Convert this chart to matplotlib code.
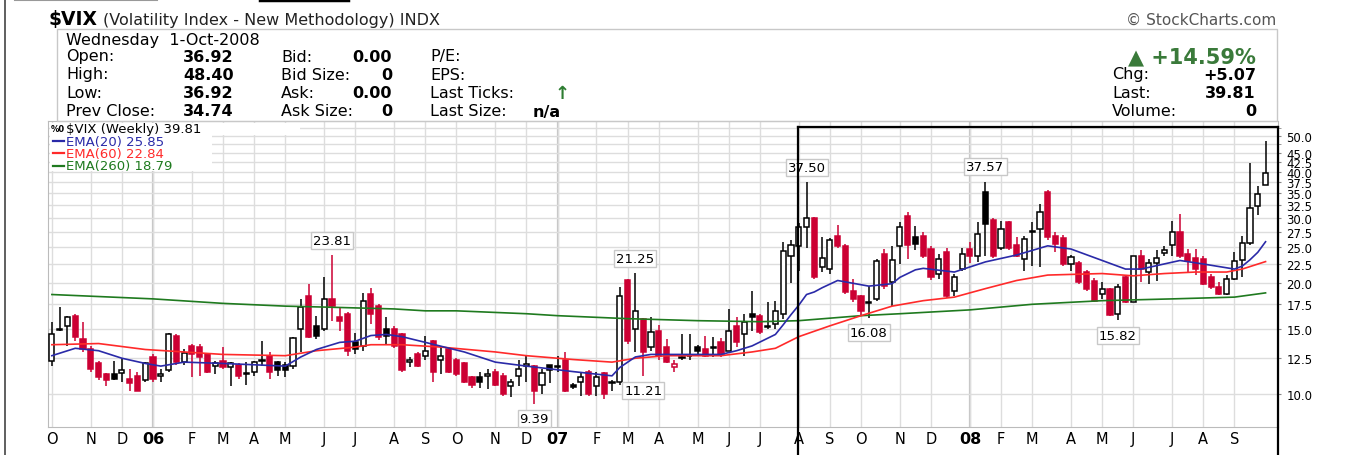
import matplotlib
matplotlib.use("Agg")
from matplotlib import pyplot as plt
from matplotlib.patches import Rectangle
from matplotlib.lines import Line2D
import matplotlib.ticker as mticker
import numpy as np
import pandas as pd

# weekly $VIX candles, week of 3-Oct-2005 .. week of 29-Sep-2008
first_week = "2005-10-03"
opens = [
    12.3, 14.9, 15.3, 16.3, 14.1, 13.2, 12.1, 11.3, 11.3, 11.4,
    11.0, 11.2, 10.9, 12.6, 11.2, 11.6, 14.4, 12.2, 13.5, 13.4,
    12.8, 11.9, 12.3, 11.8, 12.0, 11.3, 11.5, 12.3, 12.7, 12.2,
    12.0, 11.9, 15.0, 18.4, 15.3, 15.0, 18.1, 16.2, 16.5, 13.8,
    13.5, 18.7, 17.3, 15.0, 15.0, 14.5, 12.2, 12.8, 12.7, 13.9,
    12.4, 13.2, 12.4, 12.1, 11.1, 11.1, 11.2, 11.5, 11.2, 10.5,
    11.2, 11.9, 11.9, 10.6, 12.0, 11.8, 12.4, 10.6, 10.8, 11.5,
    10.5, 11.4, 10.7, 10.8, 20.3, 15.0, 16.0, 13.4, 14.8, 13.4,
    11.85, 12.55, 12.65, 13.4, 13.2, 13.3, 13.8, 13.1, 15.3, 14.5,
    16.5, 16.3, 15.2, 15.5, 16.5, 23.7, 25.2, 28.3, 30.0, 22.1,
    21.8, 26.8, 25.1, 19.0, 18.4, 17.6, 18.1, 24.0, 20.1, 25.2,
    30.4, 26.6, 26.8, 24.7, 21.2, 24.3, 19.0, 21.8, 24.7, 23.6,
    35.3, 29.6, 24.8, 29.3, 25.3, 23.2, 27.4, 28.0, 35.2, 26.8,
    26.5, 22.5, 22.6, 21.4, 20.2, 18.7, 19.3, 16.5, 20.8, 17.8,
    23.6, 21.4, 22.7, 24.1, 25.4, 27.4, 23.9, 23.4, 23.2, 20.7,
    19.5, 18.7, 20.5, 23.0, 25.6, 32.3, 36.92]
highs = [
    15.7, 17.2, 16.3, 16.5, 15.7, 13.5, 12.3, 11.4, 12.3, 12.5,
    11.7, 11.5, 12.2, 12.8, 11.7, 14.6, 14.5, 13.2, 13.7, 13.7,
    12.9, 12.3, 13.4, 12.2, 12.1, 12.2, 12.3, 13.9, 13.0, 12.3,
    12.2, 14.3, 18.1, 19.9, 16.3, 20.7, 23.81, 17.1, 16.7, 14.6,
    18.8, 19.4, 17.5, 16.2, 15.3, 14.6, 12.6, 13.0, 14.4, 14.0,
    13.4, 13.4, 12.5, 12.2, 11.2, 11.5, 11.7, 11.7, 11.4, 11.0,
    12.4, 12.7, 12.0, 11.7, 12.0, 12.7, 13.0, 10.7, 11.5, 11.6,
    11.5, 11.5, 10.9, 19.5, 20.5, 21.25, 16.1, 16.2, 15.4, 14.1,
    12.4, 14.5, 14.5, 13.6, 14.4, 14.3, 14.2, 17.0, 16.2, 16.5,
    19.0, 16.5, 17.8, 17.9, 25.8, 26.2, 29.0, 37.5, 30.2, 26.6,
    26.4, 28.7, 25.5, 20.5, 18.6, 19.6, 23.2, 24.7, 25.2, 29.3,
    31.1, 28.5, 27.5, 25.2, 24.0, 24.8, 21.2, 24.8, 25.8, 29.2,
    37.57, 30.0, 29.4, 29.5, 26.7, 26.8, 29.3, 32.7, 35.6, 27.5,
    27.0, 23.8, 22.9, 21.7, 20.6, 20.1, 19.4, 19.9, 21.0, 23.7,
    24.5, 23.2, 24.5, 25.2, 29.5, 30.8, 24.7, 24.7, 23.7, 21.2,
    20.1, 21.0, 24.3, 26.8, 42.2, 36.6, 48.4]
lows = [
    11.9, 14.8, 13.5, 13.9, 13.0, 11.5, 10.9, 10.5, 10.9, 10.8,
    10.2, 10.2, 10.8, 10.8, 10.8, 11.5, 12.0, 12.0, 11.1, 11.2,
    11.4, 11.3, 11.7, 10.5, 11.0, 10.6, 11.2, 11.9, 11.0, 11.2,
    11.1, 11.7, 13.0, 14.2, 14.1, 14.8, 15.8, 14.8, 12.7, 12.8,
    13.1, 15.5, 14.0, 13.7, 13.3, 11.5, 11.8, 11.8, 12.4, 10.8,
    11.3, 11.4, 11.2, 10.7, 10.4, 10.4, 10.3, 10.5, 9.9, 9.8,
    10.5, 10.8, 9.39, 10.0, 10.7, 11.5, 10.1, 10.3, 9.9, 9.9,
    9.9, 9.7, 10.2, 10.6, 13.7, 13.0, 11.21, 13.1, 12.4, 12.1,
    11.5, 12.4, 12.4, 12.7, 12.6, 12.6, 12.6, 13.1, 13.4, 12.7,
    14.8, 14.5, 15.0, 15.0, 16.0, 20.0, 21.5, 24.9, 20.5, 21.4,
    21.1, 24.8, 18.7, 17.8, 16.3, 16.08, 17.9, 19.3, 17.3, 22.5,
    23.2, 24.6, 23.3, 20.4, 20.5, 18.2, 18.4, 21.6, 22.6, 22.8,
    23.6, 23.4, 24.5, 24.6, 23.5, 21.6, 22.2, 22.1, 26.2, 24.3,
    22.2, 21.6, 19.9, 19.0, 17.7, 18.1, 16.3, 15.82, 17.6, 17.8,
    20.1, 19.9, 20.2, 23.6, 23.6, 23.4, 21.4, 21.0, 19.7, 19.3,
    18.5, 18.5, 20.3, 20.7, 25.3, 30.6, 36.92]
closes = [
    14.5, 15.0, 16.2, 14.3, 13.2, 11.7, 11.1, 10.9, 11.0, 11.6,
    10.7, 10.2, 12.1, 11.0, 11.3, 14.5, 12.2, 12.9, 12.8, 12.6,
    11.5, 12.1, 11.8, 12.1, 11.2, 11.4, 12.2, 12.4, 11.5, 11.6,
    11.65, 14.2, 17.2, 14.3, 14.4, 18.1, 17.3, 15.8, 13.1, 13.2,
    17.9, 16.5, 14.3, 14.4, 13.5, 11.6, 12.35, 11.9, 13.1, 11.5,
    12.7, 11.5, 11.3, 10.8, 10.6, 10.75, 11.3, 10.6, 10.0, 10.8,
    11.7, 12.05, 10.2, 11.4, 11.6, 11.9, 10.2, 10.45, 11.1, 10.0,
    11.1, 10.0, 10.8, 18.4, 13.9, 16.8, 13.0, 14.7, 12.7, 12.2,
    12.05, 12.6, 12.7, 13.1, 12.7, 13.4, 12.8, 14.8, 13.8, 15.7,
    16.2, 14.7, 15.3, 16.8, 24.4, 25.3, 28.4, 30.0, 20.7, 23.4,
    26.2, 25.1, 18.9, 18.1, 16.8, 17.75, 22.9, 19.6, 23.0, 28.3,
    25.4, 25.5, 23.6, 20.7, 23.2, 18.4, 20.7, 24.0, 23.6, 27.2,
    28.9, 23.6, 28.0, 24.8, 23.7, 26.3, 27.6, 31.1, 26.6, 25.5,
    22.5, 23.5, 20.1, 19.3, 17.9, 19.3, 16.4, 19.5, 17.8, 23.6,
    21.8, 22.7, 23.4, 24.6, 27.4, 23.6, 22.9, 21.8, 19.8, 19.5,
    18.7, 20.5, 22.9, 25.6, 32.0, 34.74, 39.81]

# moving averages (week index, value)
ema20_weeks = [0, 3, 6, 9, 12, 14, 17, 22, 26, 30, 32, 34, 37, 39, 41, 43, 45, 48, 53, 57,
               61, 64, 67, 72, 73, 75, 77, 82, 86, 88, 90, 93, 94, 95, 96, 97, 98, 99, 101, 105,
               108, 109, 111, 112, 116, 120, 124, 128, 131, 135, 138, 140, 145, 148, 152, 153, 154, 155, 156]
ema20_vals = [12.7, 13.3, 13.1, 12.5, 12.1, 11.9, 12.2, 12.1, 12.0, 11.9, 12.6, 13.2, 13.8, 13.9, 14.4, 14.5, 14.3, 13.8, 13.0, 12.2,
              11.9, 11.7, 11.5, 11.2, 11.8, 12.6, 12.8, 12.8, 12.8, 13.1, 13.5, 14.5, 15.4, 16.4, 17.4, 18.6, 18.9, 19.4, 20.3, 19.6,
              19.9, 20.7, 21.7, 21.9, 21.4, 22.8, 23.8, 25.2, 24.7, 23.0, 21.8, 21.8, 23.0, 22.5, 21.8, 22.2, 23.1, 24.2, 25.85]
ema60_weeks = [0, 6, 12, 22, 30, 34, 39, 41, 45, 50, 57, 61, 67, 72, 75, 79, 86, 90, 93, 96,
               100, 104, 108, 112, 116, 120, 124, 128, 135, 139, 143, 147, 151, 153, 156]
ema60_vals = [13.6, 13.7, 13.2, 12.8, 12.7, 13.1, 13.4, 13.6, 13.6, 13.4, 13.0, 12.7, 12.4, 12.2, 12.5, 12.7, 12.7, 13.0, 13.3, 14.3,
              15.3, 16.3, 17.3, 17.9, 18.3, 19.3, 20.3, 21.0, 21.2, 20.9, 21.2, 21.4, 21.4, 21.8, 22.84]
ema260_weeks = [0, 13, 22, 30, 35, 44, 48, 52, 61, 65, 74, 83, 91, 96, 104, 109, 118, 126, 135, 144, 152, 156]
ema260_vals = [18.6, 18.1, 17.6, 17.3, 17.2, 17.0, 16.8, 16.8, 16.5, 16.3, 16.0, 15.8, 15.7, 15.8, 16.3, 16.5, 16.9, 17.5, 17.9, 18.1, 18.3, 18.79]

month_labels = ["O", "N", "D", "06", "F", "M", "A", "M", "J", "J", "A", "S",
                "O", "N", "D", "07", "F", "M", "A", "M", "J", "J", "A", "S",
                "O", "N", "D", "08", "F", "M", "A", "M", "J", "J", "A", "S"]
ytick_vals = [10, 12.5, 15, 17.5, 20, 22.5, 25, 27.5, 30, 32.5, 35, 37.5, 40, 42.5, 45, 50]
ygrid_extra = [47.5, 52.5]

# marked highs / lows
hi_idx = [36, 75, 97, 120]
lo_idx = [62, 76, 105, 137]

W, H = 1354, 456
fig = plt.figure(figsize=(W / 100, H / 100), dpi=100)
fig.patch.set_facecolor("white")


def fx(x):
    return x / W


def fy(y):
    return 1 - y / H


FONT = "DejaVu Sans"
RED = "#cc0033"

ax = fig.add_axes([fx(48), fy(428), fx(1278) - fx(48), fy(122) - fy(428)])
ax.set_yscale("log")
ax.set_ylim(8.14, 54.9)
ax.set_xlim(-0.5, 157.6)

o = np.array(opens)
h = np.array(highs)
l = np.array(lows)
c = np.array(closes)
x = np.arange(len(c))
prev = np.r_[c[0], c[:-1]]
col = np.where(c < prev, RED, "black")
face = np.where(c > o, "white", col)

ax.vlines(x, l, h, colors=col, lw=1.1, zorder=3)
ax.bar(x, np.maximum(np.abs(c - o), 0.03), bottom=np.minimum(o, c), width=0.66,
       color=face, edgecolor=col, linewidth=1.1, zorder=4)

ax.plot(ema260_weeks, ema260_vals, color="#1f7a1f", lw=1.2, zorder=5)
ax.plot(ema60_weeks, ema60_vals, color="#ff2a2a", lw=1.2, zorder=5)
ax.plot(ema20_weeks, ema20_vals, color="#2a2aa8", lw=1.2, zorder=5)

# axes / grid
dates = pd.date_range(first_week, periods=len(c), freq="7D")
month_pos = [i for i in range(len(dates)) if i == 0 or dates[i].month != dates[i - 1].month]
ax.set_xticks(month_pos)
ax.set_xticklabels(month_labels, fontfamily=FONT, fontsize=10.5)
for lab in ax.get_xticklabels():
    if lab.get_text().isdigit():
        lab.set_fontweight("bold")
        lab.set_fontsize(11.5)
ax.yaxis.tick_right()
ax.set_yticks(ytick_vals)
ax.yaxis.set_major_formatter(mticker.FormatStrFormatter("%.1f"))
ax.yaxis.set_minor_locator(mticker.FixedLocator(ygrid_extra))
ax.yaxis.set_minor_formatter(mticker.NullFormatter())
for lab in ax.get_yticklabels():
    lab.set_fontfamily(FONT)
    lab.set_fontsize(8.5)
ax.tick_params(axis="x", length=0, pad=3)
ax.tick_params(axis="y", which="both", length=2, pad=4, color="#888888")
ax.grid(True, which="both", color="#dddddd", lw=1.0, zorder=0)
for i, lab in zip(month_pos, month_labels):
    if lab.isdigit():
        ax.axvline(i, color="#c4c4c4", lw=1.6, zorder=0)
for s in ax.spines.values():
    s.set_color("#bbbbbb")

# high / low tags
box = dict(boxstyle="square,pad=0.15", fc="white", ec="#c8c8c8", lw=1)
for i in hi_idx:
    ax.annotate(f"{highs[i]:.2f}", (i, highs[i]), xytext=(0, 6), textcoords="offset points",
                ha="center", va="bottom", fontsize=9.5, fontfamily=FONT, bbox=box, zorder=7)
for i in lo_idx:
    ax.annotate(f"{lows[i]:.2f}", (i, lows[i]), xytext=(0, -6), textcoords="offset points",
                ha="center", va="top", fontsize=9.5, fontfamily=FONT, bbox=box, zorder=7)

# legend in the plot, on a white patch
fig.add_artist(Rectangle((fx(50), fy(136)), fx(300) - fx(50), fy(124) - fy(136),
                         fc="white", ec="none", zorder=6))
fig.add_artist(Rectangle((fx(50), fy(172)), fx(212) - fx(50), fy(136) - fy(172),
                         fc="white", ec="none", zorder=6))
leg = [("$VIX (Weekly) 39.81", "black", None),
       ("EMA(20) 25.85", "#2a2aa8", "#2a2aa8"),
       ("EMA(60) 22.84", "#ff2a2a", "#ff2a2a"),
       ("EMA(260) 18.79", "#1f7a1f", "#1f7a1f")]
for k, (txt, tc, lc) in enumerate(leg):
    yy = 130 + 12.2 * k
    fig.text(fx(66), fy(yy), txt, color=tc, fontsize=9.5, fontfamily=FONT, va="center", zorder=7)
    if lc:
        fig.add_artist(Line2D([fx(53), fx(64)], [fy(yy), fy(yy)], color=lc, lw=1.6, zorder=7))
fig.text(fx(51), fy(130), "%0", fontsize=6, fontweight="bold", fontfamily=FONT, va="center", zorder=7)

# header
fig.text(fx(49), fy(19), "$VIX", fontsize=13.5, fontweight="bold", fontfamily=FONT, va="center")
fig.text(fx(103), fy(20), "(Volatility Index - New Methodology) INDX", fontsize=11.5,
         fontfamily=FONT, va="center", color="#222222")
fig.text(fx(1276), fy(20), "\u00a9 StockCharts.com", fontsize=11, fontfamily=FONT,
         va="center", ha="right", color="#555555")
fig.add_artist(Rectangle((fx(57), fy(122)), fx(1277) - fx(57), fy(30) - fy(122),
                         fill=False, ec="#c8c8c8", lw=1))

FS = 11.5
fig.text(fx(66), fy(40), "Wednesday  1-Oct-2008", fontsize=FS, fontfamily=FONT, va="center")
rows = [("Open:", "36.92", "Bid:", "0.00", "P/E:"),
        ("High:", "48.40", "Bid Size:", "0", "EPS:"),
        ("Low:", "36.92", "Ask:", "0.00", "Last Ticks:"),
        ("Prev Close:", "34.74", "Ask Size:", "0", "Last Size:")]
for k, (a, b, cc, d, e) in enumerate(rows):
    yy = [57, 75, 94, 112][k]
    fig.text(fx(66), fy(yy), a, fontsize=FS, fontfamily=FONT, va="center")
    fig.text(fx(183), fy(yy), b, fontsize=FS, fontweight="bold", fontfamily=FONT, va="center")
    fig.text(fx(281), fy(yy), cc, fontsize=FS, fontfamily=FONT, va="center")
    fig.text(fx(392), fy(yy), d, fontsize=FS, fontweight="bold", fontfamily=FONT, va="center", ha="right")
    fig.text(fx(430), fy(yy), e, fontsize=FS, fontfamily=FONT, va="center")
fig.text(fx(562), fy(94), "\u2191", fontsize=13, fontweight="bold", color="#2e7d32",
         fontfamily=FONT, va="center", ha="center")
fig.text(fx(533), fy(112), "n/a", fontsize=FS, fontweight="bold", fontfamily=FONT, va="center")

fig.text(fx(1256), fy(57), "\u25b2 +14.59%", fontsize=15, fontweight="bold", color="#3a7a3a",
         fontfamily=FONT, va="center", ha="right")
for k, (a, b) in enumerate([("Chg:", "+5.07"), ("Last:", "39.81"), ("Volume:", "0")]):
    yy = [75, 94, 112][k]
    fig.text(fx(1112), fy(yy), a, fontsize=FS, fontfamily=FONT, va="center")
    fig.text(fx(1256), fy(yy), b, fontsize=FS, fontweight="bold", fontfamily=FONT,
             va="center", ha="right")

# highlight frame drawn over the chart
for xs, ys in [([798, 798], [128, 460]), ([798, 1278], [128, 128]), ([1278, 1278], [128, 460])]:
    fig.add_artist(Line2D([fx(v) for v in xs], [fy(v) for v in ys], color="black", lw=1.6, zorder=8))

# page edges
fig.add_artist(Line2D([fx(5), fx(5)], [fy(0), fy(456)], color="#444444", lw=1.2))
fig.add_artist(Line2D([fx(15), fx(157)], [fy(1), fy(1)], color="#999999", lw=1.5))
fig.add_artist(Line2D([fx(260), fx(348)], [fy(1), fy(1)], color="black", lw=2.5))

fig.savefig("out.png", dpi=100)
